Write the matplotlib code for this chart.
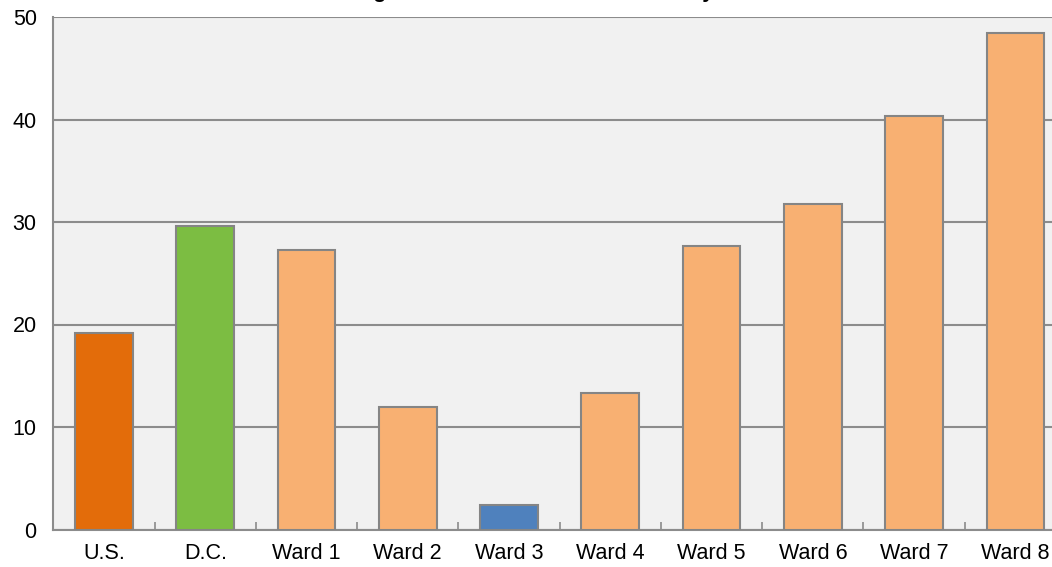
import matplotlib
matplotlib.use("Agg")
import matplotlib.pyplot as plt

# Datos del gráfico
categorias = ["U.S.", "D.C.", "Ward 1", "Ward 2", "Ward 3", "Ward 4",
              "Ward 5", "Ward 6", "Ward 7", "Ward 8"]
valores = [19.2, 29.6, 27.3, 12.0, 2.4, 13.3, 27.7, 31.8, 40.3, 48.4]
colores = ["#E36C0A", "#7CBD42", "#F8B072", "#F8B072", "#4F81BD", "#F8B072",
           "#F8B072", "#F8B072", "#F8B072", "#F8B072"]
titulo = "Percentage of Children under 18 in Poverty"

plt.rcParams['font.family'] = ['Liberation Sans', 'DejaVu Sans']

W, H = 1052, 567
fig = plt.figure(figsize=(W / 100, H / 100), dpi=100)
# el área del gráfico sale por la derecha (recortada en la original)
ax = fig.add_axes([53.4 / W, 1 - 529.5 / H, (1066 - 53.4) / W, (529.5 - 17) / H])
ax.set_facecolor("#F1F1F1")

x = range(len(categorias))
ax.bar(x, valores, width=0.57, color=colores, edgecolor="#858585", linewidth=1.5, zorder=3)

ax.set_xlim(-0.5, len(categorias) - 0.5)
ax.set_ylim(0, 50)
ax.set_yticks([0, 10, 20, 30, 40, 50])
ax.grid(axis='y', color="#8C8C8C", linewidth=1.5, zorder=1)
ax.set_axisbelow(True)

ax.set_xticks(list(x))
ax.set_xticklabels(categorias, fontsize=15.5)
ax.set_xticks([i + 0.5 for i in range(len(categorias) - 1)], minor=True)
ax.tick_params(axis='x', which='major', length=0, pad=10)
ax.tick_params(axis='x', which='minor', direction='in', length=6, width=1.2, color="#8C8C8C")
ax.tick_params(axis='y', length=0, labelsize=15.5, pad=12)

for lado in ['top', 'right']:
    ax.spines[lado].set_visible(False)
for lado in ['left', 'bottom']:
    ax.spines[lado].set_color("#8C8C8C")
    ax.spines[lado].set_linewidth(1.5)

# título recortado por arriba, solo se ven los trazos inferiores
fig.text(499 / W, 1 + 2 / H, titulo, ha='center', va='baseline',
         fontsize=15, fontweight='bold')

fig.savefig("out.png", dpi=100)
